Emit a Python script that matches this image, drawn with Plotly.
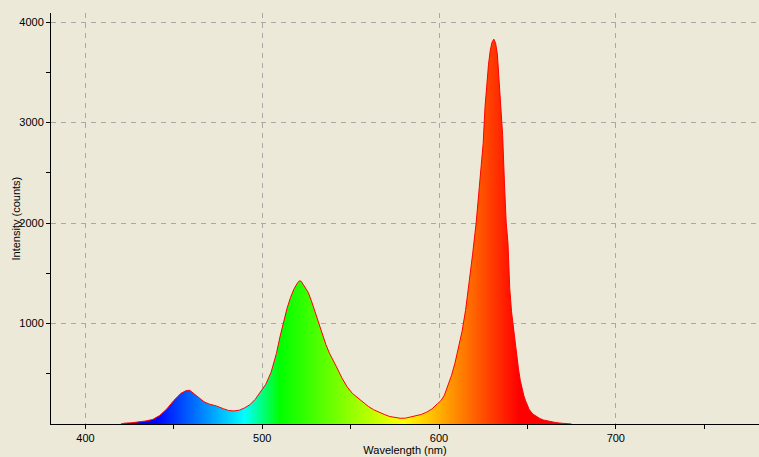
import plotly.graph_objects as go

# Spectrum
wavelength_nm = [420, 422, 426, 430, 434, 438, 442, 446, 450, 454, 457, 459, 461, 464, 467, 470,
                 474, 478, 481, 484, 487, 490, 493, 496, 499, 502, 505, 508, 510, 512, 514, 516,
                 518, 520, 521, 522, 524, 526, 528, 530, 532, 534, 536, 538, 540, 542, 545, 548,
                 551, 554, 557, 560, 563, 566, 569, 572, 575, 578, 581, 584, 587, 590, 593, 596,
                 599, 601, 603, 605, 607, 609, 611, 613, 615, 617, 619, 621, 622, 623, 624, 625,
                 626, 627, 628, 629, 630, 631, 632, 633, 634, 635, 636, 637, 638, 639, 640, 641,
                 642, 643, 644, 645, 646, 647, 648, 649, 650, 651, 653, 655, 657, 659, 662, 665,
                 668, 672, 675]
intensity_counts = [0, 8, 12, 20, 30, 45, 85, 150, 235, 305, 333, 335, 306, 262, 222, 198,
                    180, 152, 134, 130, 137, 160, 192, 245, 315, 395, 515, 700, 865, 1015, 1150, 1260,
                    1345, 1405, 1425, 1420, 1370, 1310, 1215, 1110, 1005, 890, 790, 705, 630, 568, 460, 370,
                    304, 262, 215, 175, 142, 115, 95, 75, 64, 57, 58, 68, 80, 95, 118, 150,
                    200, 230, 285, 385, 480, 605, 750, 920, 1130, 1400, 1690, 2000, 2200, 2380, 2550, 2800,
                    3150, 3400, 3580, 3720, 3800, 3830, 3790, 3680, 3420, 3170, 2870, 2400, 2000, 1800, 1350, 1120,
                    960, 800, 640, 540, 430, 350, 280, 230, 185, 145, 100, 75, 55, 40, 26, 18,
                    10, 5, 0]

x_tick_vals = [400, 500, 600, 700]
y_tick_vals = [1000, 2000, 3000, 4000]
y_minor_vals = [500, 1500, 2500, 3500]

# wavelength -> colour stops for the fill gradient
spec_stops_nm = [380, 440, 490, 510, 580, 645, 780]
spec_colors = ["rgb(0,0,255)", "rgb(0,0,255)", "rgb(0,255,255)", "rgb(0,255,0)",
               "rgb(255,255,0)", "rgb(255,0,0)", "rgb(255,0,0)"]
lo, hi = spec_stops_nm[0], spec_stops_nm[-1]
colorscale = [[(w - lo) / (hi - lo), c] for w, c in zip(spec_stops_nm, spec_colors)]

BG = "#ECE9D8"
FONT = "Liberation Sans"

fig = go.Figure()
fig.add_trace(go.Scatter(
    x=wavelength_nm, y=intensity_counts, mode="lines",
    line=dict(color="rgb(255,0,0)", width=1),
    fill="tozeroy",
    fillgradient=dict(type="horizontal", colorscale=colorscale, start=lo, stop=hi),
    showlegend=False, hoverinfo="skip",
))

grid = dict(showgrid=True, gridcolor="#A8A8A8", griddash="5px,5px", gridwidth=1)

fig.update_xaxes(
    range=[380.5, 781], tickvals=x_tick_vals, ticks="outside", ticklen=4,
    tickcolor="black", showline=True, linecolor="black", linewidth=1,
    minor=dict(dtick=50, tick0=0, ticks="outside", ticklen=4, tickcolor="black", showgrid=False),
    zeroline=False, tickfont=dict(family=FONT, size=11, color="black"), automargin=False,
    title=dict(text="Wavelength (nm)", font=dict(family=FONT, size=11, color="black"), standoff=2),
    **grid,
)
fig.update_yaxes(
    range=[0, 4090], tickvals=y_tick_vals, ticks="outside", ticklen=4,
    tickcolor="black", showline=True, linecolor="black", linewidth=1,
    minor=dict(tickvals=y_minor_vals, ticks="outside", ticklen=4, tickcolor="black", showgrid=False),
    zeroline=False, tickfont=dict(family=FONT, size=11, color="black"), automargin=False,
    **grid,
)

fig.add_annotation(
    text="Intensity (counts)", textangle=-90, showarrow=False,
    xref="paper", yref="paper", x=0, y=0.5, xanchor="center", yanchor="middle",
    xshift=-36, font=dict(family=FONT, size=11, color="black"),
)

fig.update_layout(
    width=759, height=457,
    margin=dict(l=51, r=0, t=13, b=33),
    paper_bgcolor=BG, plot_bgcolor=BG,
)

fig.write_html("out.html", config={"displayModeBar": False},
               post_script="document.body.style.margin='0px';document.body.style.overflow='hidden';")
